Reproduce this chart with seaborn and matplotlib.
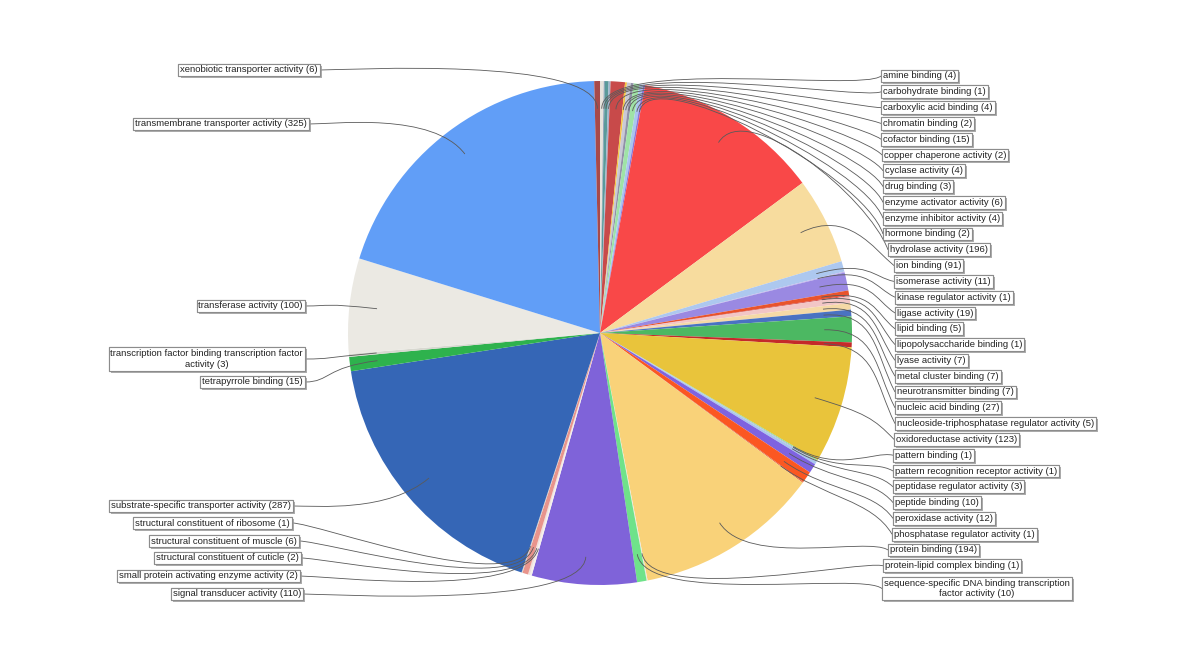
import textwrap
import numpy as np
import matplotlib
matplotlib.use('Agg')
import matplotlib.pyplot as plt
import matplotlib.patheffects as pe
from matplotlib.path import Path
from matplotlib.patches import PathPatch
import seaborn as sns

sns.set_theme(style='white')
plt.rcParams['font.family'] = ['Liberation Sans', 'DejaVu Sans']

# molecular function categories and gene counts (clockwise from 12 o'clock)
categories = [
    'amine binding', 'carbohydrate binding', 'carboxylic acid binding', 'chromatin binding',
    'cofactor binding', 'copper chaperone activity', 'cyclase activity', 'drug binding',
    'enzyme activator activity', 'enzyme inhibitor activity', 'hormone binding',
    'hydrolase activity', 'ion binding', 'isomerase activity', 'kinase regulator activity',
    'ligase activity', 'lipid binding', 'lipopolysaccharide binding', 'lyase activity',
    'metal cluster binding', 'neurotransmitter binding', 'nucleic acid binding',
    'nucleoside-triphosphatase regulator activity', 'oxidoreductase activity',
    'pattern binding', 'pattern recognition receptor activity', 'peptidase regulator activity',
    'peptide binding', 'peroxidase activity', 'phosphatase regulator activity',
    'protein binding', 'protein-lipid complex binding',
    'sequence-specific DNA binding transcription factor activity',
    'signal transducer activity', 'small protein activating enzyme activity',
    'structural constituent of cuticle', 'structural constituent of muscle',
    'structural constituent of ribosome', 'substrate-specific transporter activity',
    'tetrapyrrole binding', 'transcription factor binding transcription factor activity',
    'transferase activity', 'transmembrane transporter activity', 'xenobiotic transporter activity',
]
counts = [4, 1, 4, 2, 15, 2, 4, 3, 6, 4, 2,
          196, 91, 11, 1, 19, 5, 1, 7, 7, 7, 27, 5, 123,
          1, 1, 3, 10, 12, 1, 194, 1, 10,
          110, 2, 2, 6, 1, 287, 15, 3, 100, 325, 6]
colors = ['#e6e3dc', '#7c93b0', '#5a9a9a', '#9fb4cc', '#c84a4a', '#f4c542', '#c9c9d6',
          '#9191a8', '#9fe3a6', '#a9c6ef', '#8a78dc', '#f94848', '#f7dc9e', '#adc8ef',
          '#c0b4ec', '#9a89e2', '#e9532c', '#d04040', '#f2c6c6', '#f5d9a6', '#4a72c2',
          '#4cb862', '#c42a2a', '#e9c43b', '#7ee09a', '#b8b8c8', '#a9c6ef', '#7e63e0',
          '#fb5722', '#e06040', '#f9d279', '#ece8de', '#6fe28a', '#7f63d9', '#f5f0ec',
          '#f0e0dc', '#e8948c', '#d8d0c8', '#3566b6', '#2eb24d', '#d8d8d0', '#ebe9e3',
          '#619ef7', '#a84a4a']

W, H = 1200, 655
cx, cy, R = 600, H - 333, 252

fig = plt.figure(figsize=(12, 6.55), dpi=100)
ax = fig.add_axes([0, 0, 1, 1])
wedges, _ = ax.pie(counts, colors=colors, startangle=90, counterclock=False,
                   center=(cx, cy), radius=R, wedgeprops=dict(linewidth=0))
ax.set_xlim(0, W)
ax.set_ylim(0, H)
ax.set_aspect('equal')
ax.axis('off')

# label layout (screen pixels)
n_right = 33
right_x = [881, 881, 881, 881, 881, 882, 883, 883, 883, 883, 883, 888, 894, 894, 895, 895,
           895, 895, 895, 895, 895, 895, 895, 894, 893, 893, 893, 893, 893, 892, 888, 883, 882]
left_edge = [303, 300, 301, 299, 292, 293, 305, 305, 305, 309, 320]
left_y = [594, 576, 558, 541, 523, 506, 382, 359, 306, 124, 70]

shadow = [pe.withSimplePatchShadow(offset=(1.5, -1.5), shadow_rgbFace='#9a9a9a', alpha=0.8),
          pe.Normal()]
box = dict(boxstyle='square,pad=0.2', fc='white', ec='#8c8c8c', lw=0.8)


def connect(w, lx, ly, side):
    mid = np.deg2rad((w.theta1 + w.theta2) / 2)
    d = np.array([np.cos(mid), np.sin(mid)])
    p0 = np.array([cx, cy]) + 0.89 * R * d
    p1 = np.array([cx, cy]) + 1.1 * R * d
    if side > 0:
        p2 = (lx - 20, (p0[1] + ly) / 2)
    else:
        p2 = (lx + 25, ly)
    verts = [p0, p1, p2, (lx, ly)]
    path = Path(verts, [Path.MOVETO, Path.CURVE4, Path.CURVE4, Path.CURVE4])
    ax.add_patch(PathPatch(path, fc='none', ec='#5a5a5a', lw=0.6, zorder=3))


for i, (w, cat, n) in enumerate(zip(wedges, categories, counts)):
    label = textwrap.fill(f'{cat} ({n})', 49)
    nlines = label.count('\n') + 1
    if i < n_right:
        sy = 76 + 15.8 * i + (nlines - 1) * 7
        lx = right_x[i]
        t = ax.text(lx + 2, H - sy, label, ha='left', va='center', multialignment='center',
                    fontsize=6.8, color='#222222', bbox=box, zorder=5)
        connect(w, lx, H - sy, 1)
    else:
        j = i - n_right
        sy = left_y[j]
        lx = left_edge[j]
        t = ax.text(lx - 2, H - sy, label, ha='right', va='center', multialignment='center',
                    fontsize=6.8, color='#222222', bbox=box, zorder=5)
        connect(w, lx, H - sy, -1)
    t.get_bbox_patch().set_path_effects(shadow)

fig.savefig('out.png', dpi=100, facecolor='white')
